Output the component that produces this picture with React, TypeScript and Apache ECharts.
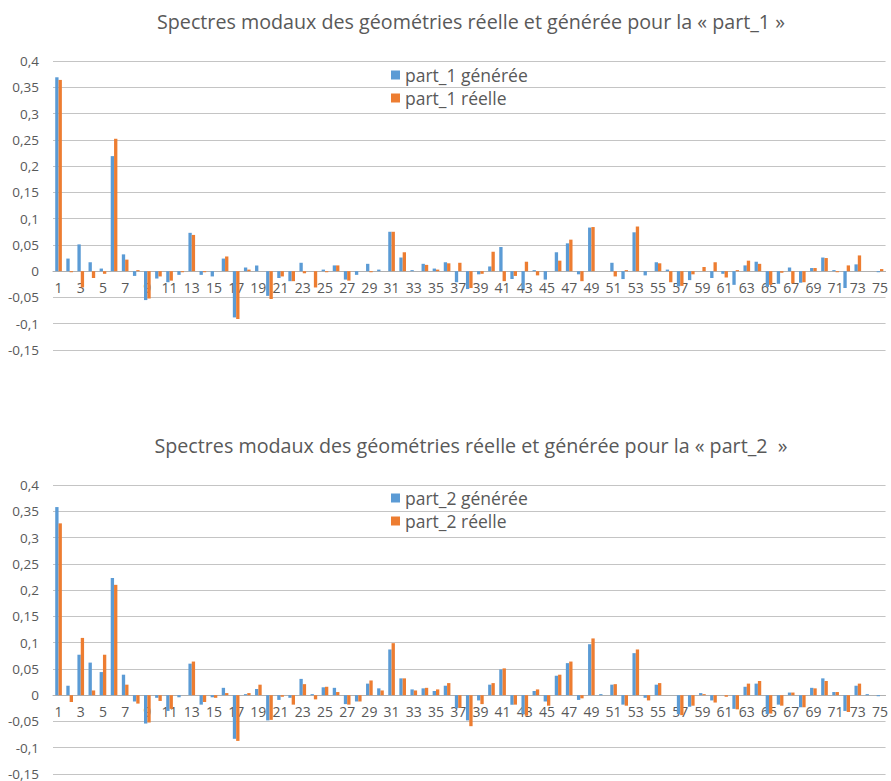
import React, { useEffect, useRef } from "react";
import * as echarts from "echarts";

const categories: string[] = Array.from({ length: 75 }, (_, i) => String(i + 1));

const title1 = "Spectres modaux des géométries réelle et générée pour la « part_1 »";
const title2 = "Spectres modaux des géométries réelle et générée pour la « part_2  »";

const part1Generee = [
  0.369, 0.024, 0.051, 0.017, 0.005, 0.219, 0.032, -0.009, -0.055, -0.014,
  -0.021, -0.007, 0.073, -0.007, -0.01, 0.024, -0.088, 0.007, 0.011, -0.047,
  -0.013, -0.019, 0.016, 0, 0.003, 0.011, -0.016, -0.007, 0.014, 0.003,
  0.075, 0.026, 0.002, 0.014, 0.005, 0.017, -0.021, -0.034, -0.006, 0.009,
  0.046, -0.015, -0.034, 0.002, -0.016, 0.036, 0.053, -0.006, 0.083, 0,
  0.016, -0.015, 0.074, -0.008, 0.017, 0.003, -0.029, -0.017, 0, -0.013,
  -0.005, -0.026, 0.011, 0.018, -0.03, -0.024, 0.007, -0.022, 0.006, 0.026,
  0.002, -0.032, 0.013, 0, -0.002,
];
const part1Reelle = [
  0.364, -0.002, -0.031, -0.013, -0.005, 0.252, 0.022, 0.002, -0.052, -0.01,
  -0.018, -0.002, 0.069, -0.002, 0, 0.028, -0.091, 0.003, 0, -0.053,
  -0.01, -0.019, -0.004, -0.031, -0.002, 0.011, -0.018, 0, -0.002, 0,
  0.075, 0.036, 0, 0.012, 0.003, 0.015, 0.016, -0.032, -0.005, 0.037,
  -0.019, -0.009, 0.018, -0.008, 0, 0.02, 0.06, -0.019, 0.084, 0,
  -0.01, 0.002, 0.085, 0, 0.015, -0.021, -0.028, -0.006, 0.008, 0.017,
  -0.012, 0.002, 0.02, 0.014, -0.026, -0.003, -0.023, -0.021, 0.006, 0.025,
  -0.002, 0.011, 0.03, 0, 0.004,
];
const part2Generee = [
  0.358, 0.018, 0.077, 0.062, 0.044, 0.223, 0.039, -0.012, -0.054, -0.005,
  -0.03, -0.004, 0.06, -0.018, -0.004, 0.014, -0.083, 0.002, 0.012, -0.048,
  -0.009, -0.005, 0.031, 0.002, 0.015, 0.014, -0.017, -0.012, 0.022, 0.013,
  0.087, 0.032, 0.011, 0.013, 0.008, 0.018, -0.025, -0.048, -0.01, 0.02,
  0.049, -0.018, -0.036, 0.008, -0.012, 0.037, 0.061, -0.009, 0.097, 0.002,
  0.02, -0.018, 0.08, -0.005, 0.02, 0, -0.036, -0.022, 0.004, -0.01,
  0, -0.026, 0.016, 0.022, -0.036, -0.018, 0.005, -0.023, 0.014, 0.032,
  0.006, -0.03, 0.018, 0.002, -0.002,
];
const part2Reelle = [
  0.327, -0.013, 0.109, 0.009, 0.077, 0.21, 0.02, -0.016, -0.052, -0.011,
  -0.026, 0, 0.064, -0.013, -0.005, 0.004, -0.087, 0.004, 0.02, -0.047,
  -0.003, -0.018, 0.021, -0.008, 0.016, 0.006, -0.018, -0.012, 0.028, 0.009,
  0.099, 0.032, 0.009, 0.014, 0.011, 0.023, -0.024, -0.059, -0.017, 0.023,
  0.051, -0.018, -0.039, 0.011, -0.02, 0.039, 0.064, -0.006, 0.108, 0,
  0.021, -0.02, 0.087, -0.01, 0.023, 0, -0.038, -0.02, 0.002, -0.014,
  -0.003, -0.027, 0.022, 0.027, -0.035, -0.02, 0.005, -0.023, 0.013, 0.027,
  0.006, -0.032, 0.022, 0, 0,
];

const seriesNames1 = ["part_1 générée", "part_1 réelle"];
const seriesNames2 = ["part_2 générée", "part_2 réelle"];

const Y_MIN = -0.15;
const Y_MAX = 0.4;
const Y_STEP = 0.05;

const BLUE = "#5B9BD5";
const ORANGE = "#ED7D31";
const TEXT = "#595959";
const FONT = "'Open Sans', sans-serif";
const GRID_H = 289;

const fmt = (v: number) => String(Math.round(v * 100) / 100).replace(".", ",");

export default function App() {
  const ref = useRef<HTMLDivElement>(null);
  useEffect(() => {
    if (!ref.current) return;
    const chart = echarts.init(ref.current, null, { renderer: "svg" });
    // move the category axis up to the zero level of the value axis
    const zeroOffset = -((0 - Y_MIN) / (Y_MAX - Y_MIN)) * GRID_H;
    const xAxisBase = (gridIndex: number) => ({
      type: "category" as const,
      gridIndex,
      data: categories,
      position: "bottom" as const,
      offset: zeroOffset,
      axisLine: { onZero: false, lineStyle: { color: "#b0b0b0", width: 1 } },
      axisTick: { show: false },
      axisLabel: { interval: 1, color: TEXT, fontSize: 14, fontFamily: FONT, margin: 9 },
      splitLine: { show: false },
    });
    const yAxisBase = (gridIndex: number) => ({
      type: "value" as const,
      gridIndex,
      min: Y_MIN,
      max: Y_MAX,
      interval: Y_STEP,
      axisLine: { show: false },
      axisTick: { show: false },
      axisLabel: { color: TEXT, fontSize: 13.5, fontFamily: FONT, margin: 14, formatter: fmt },
      splitLine: { lineStyle: { color: "#c4c4c4", width: 1 } },
    });
    const barBase = {
      type: "bar" as const,
      barGap: "0%",
      barCategoryGap: "40%",
    };
    const legendBase = {
      orient: "vertical" as const,
      left: 386,
      itemWidth: 9,
      itemHeight: 9,
      itemGap: 5,
      icon: "rect",
      textStyle: { color: TEXT, fontSize: 17.5, fontFamily: FONT, lineHeight: 18 },
    };
    const titleStyle = { color: TEXT, fontSize: 19.7, fontWeight: "normal" as const, fontFamily: FONT };
    chart.setOption({
      animation: false,
      backgroundColor: "#ffffff",
      title: [
        { text: title1, left: 466, top: 6, textAlign: "center", textStyle: titleStyle },
        { text: title2, left: 466, top: 430, textAlign: "center", textStyle: titleStyle },
      ],
      legend: [
        { ...legendBase, top: 61, data: seriesNames1 },
        { ...legendBase, top: 484, data: seriesNames2 },
      ],
      grid: [
        { left: 53, right: 4, top: 61, height: GRID_H },
        { left: 53, right: 4, top: 485, height: GRID_H },
      ],
      xAxis: [xAxisBase(0), xAxisBase(1)],
      yAxis: [yAxisBase(0), yAxisBase(1)],
      series: [
        { ...barBase, name: seriesNames1[0], xAxisIndex: 0, yAxisIndex: 0, data: part1Generee, itemStyle: { color: BLUE } },
        { ...barBase, name: seriesNames1[1], xAxisIndex: 0, yAxisIndex: 0, data: part1Reelle, itemStyle: { color: ORANGE } },
        { ...barBase, name: seriesNames2[0], xAxisIndex: 1, yAxisIndex: 1, data: part2Generee, itemStyle: { color: BLUE } },
        { ...barBase, name: seriesNames2[1], xAxisIndex: 1, yAxisIndex: 1, data: part2Reelle, itemStyle: { color: ORANGE } },
      ],
    });
    return () => chart.dispose();
  }, []);
  return (
    <div
      ref={ref}
      style={{ position: "fixed", left: 0, top: 0, width: 891, height: 781, background: "#fff" }}
    />
  );
}
